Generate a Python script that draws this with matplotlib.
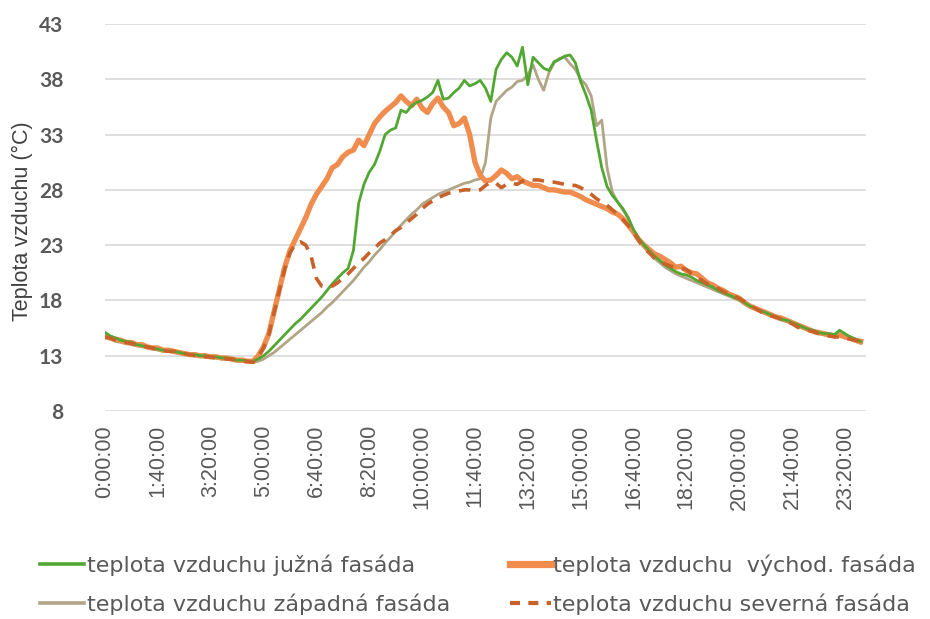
import matplotlib
matplotlib.use("Agg")
import matplotlib.pyplot as plt
from matplotlib.lines import Line2D

# time of day in minutes, 10-minute logging interval
minutes = list(range(0, 1440, 10))

tick_minutes = [0, 100, 200, 300, 400, 500, 600, 700, 800, 900, 1000, 1100, 1200, 1300, 1400]
tick_labels = ["0:00:00", "1:40:00", "3:20:00", "5:00:00", "6:40:00", "8:20:00", "10:00:00",
               "11:40:00", "13:20:00", "15:00:00", "16:40:00", "18:20:00", "20:00:00",
               "21:40:00", "23:20:00"]

y_ticks = [8, 13, 18, 23, 28, 33, 38, 43]

south = [  # južná fasáda
    15.1, 14.8, 14.6, 14.4, 14.3, 14.2, 14.0, 13.9, 13.8, 13.7, 13.6, 13.5, 13.4, 13.4, 13.3,
    13.2, 13.1, 13.1, 13.0, 13.0, 12.9, 12.9, 12.8, 12.8, 12.7, 12.6, 12.6, 12.5, 12.5,
    12.7, 13.0, 13.4, 13.9, 14.4, 14.9, 15.4, 15.9, 16.3, 16.8,
    17.3, 17.8, 18.3, 18.9, 19.5, 20.0, 20.5, 20.9, 22.5, 26.8,
    28.5, 29.6, 30.3, 31.5, 33.0, 33.4, 33.6, 35.2, 35.0, 35.6,
    35.9, 36.1, 36.4, 36.8, 37.9, 36.2, 36.3, 36.8, 37.2, 37.9,
    37.4, 37.6,
    37.9, 37.2, 36.0, 38.9, 39.8, 40.4, 40.0, 39.2, 40.9, 37.5,
    40.0, 39.5, 39.0, 38.8, 39.6, 39.8, 40.1, 40.2, 39.5, 37.8,
    36.6, 35.2, 32.5, 30.0, 28.3, 27.5, 26.9, 26.3, 25.5, 24.4,
    23.6, 23.0, 22.5, 22.0, 21.6, 21.2, 20.9, 20.6, 20.4, 20.3,
    20.1, 19.8, 19.6, 19.4, 19.2, 18.9, 18.7, 18.5, 18.3, 18.1,
    17.8, 17.5, 17.3, 17.1, 16.9, 16.7, 16.5, 16.3, 16.2, 16.0,
    15.8, 15.6, 15.4, 15.3, 15.1, 15.0, 15.0, 14.9, 15.3, 15.0,
    14.7, 14.5, 14.3,
]

east = [  # východ. fasáda
    14.8, 14.6, 14.5, 14.4, 14.2, 14.2, 14.0, 14.0, 13.8, 13.7, 13.7, 13.5, 13.5, 13.4, 13.3,
    13.2, 13.1, 13.1, 13.0, 13.0, 12.9, 12.9, 12.8, 12.8, 12.7, 12.6, 12.6, 12.5, 12.5,
    13.0, 13.8, 15.0, 17.0, 19.0, 21.0, 22.5, 23.5, 24.5, 25.5,
    26.7, 27.6, 28.3, 29.0, 30.0, 30.3, 31.0, 31.4, 31.6, 32.5,
    32.0, 33.0, 34.0, 34.6, 35.1, 35.5, 35.9, 36.5, 36.0, 35.6,
    36.2, 35.4, 35.0, 35.8, 36.3, 35.5, 35.0, 33.8, 34.0, 34.5,
    33.0, 30.5,
    29.3, 28.8, 28.9, 29.3, 29.8, 29.5, 29.0, 29.2, 28.8, 28.6,
    28.4, 28.4, 28.2, 28.0, 28.0, 27.9, 27.8, 27.8, 27.6, 27.4,
    27.1, 26.9, 26.7, 26.5, 26.3, 26.0, 25.8, 25.4, 24.8, 24.2,
    23.5, 23.0, 22.6, 22.2, 22.0, 21.7, 21.4, 21.0, 21.1, 20.7,
    20.5, 20.4, 20.0, 19.6, 19.4, 19.1, 18.9, 18.6, 18.4, 18.2,
    17.8, 17.5, 17.3, 17.1, 16.9, 16.7, 16.5, 16.4, 16.2, 16.0,
    15.8, 15.6, 15.4, 15.2, 15.1, 15.0, 14.9, 14.8, 14.9, 14.7,
    14.6, 14.4, 14.3,
]

west = [  # západná fasáda
    14.6, 14.5, 14.3, 14.2, 14.1, 14.0, 13.9, 13.8, 13.7, 13.6, 13.5, 13.4, 13.4, 13.3, 13.2,
    13.1, 13.1, 13.0, 12.9, 12.9, 12.8, 12.8, 12.7, 12.7, 12.6, 12.5, 12.5, 12.4, 12.4,
    12.5, 12.7, 13.0, 13.3, 13.7, 14.1, 14.5, 14.9, 15.3, 15.7,
    16.1, 16.5, 16.9, 17.4, 17.8, 18.3, 18.8, 19.3, 19.8, 20.4,
    21.0, 21.5, 22.1, 22.6, 23.2, 23.7, 24.3, 24.8, 25.3, 25.8,
    26.2, 26.7, 27.0, 27.3, 27.6, 27.8, 28.0, 28.2, 28.4, 28.6,
    28.7, 28.9,
    29.0, 30.5, 34.5, 36.0, 36.5, 37.0, 37.3, 37.8, 37.9, 38.4,
    39.3, 38.0, 37.0, 38.6, 39.5, 39.9, 40.0, 39.4, 38.9, 38.0,
    37.5, 36.5, 33.8, 34.3, 30.0, 27.8, 26.9, 26.2, 25.4, 24.3,
    23.4, 22.8, 22.3, 21.8, 21.4, 21.0, 20.7, 20.4, 20.2, 20.0,
    19.8, 19.6, 19.4, 19.2, 19.0, 18.8, 18.6, 18.4, 18.2, 18.0,
    17.7, 17.4, 17.2, 17.0, 16.8, 16.6, 16.4, 16.2, 16.1, 15.9,
    15.7, 15.5, 15.3, 15.2, 15.0, 14.9, 14.8, 14.7, 14.8, 14.6,
    14.5, 14.3, 14.1,
]

north = [  # severná fasáda
    14.7, 14.6, 14.4, 14.3, 14.2, 14.1, 14.0, 13.9, 13.8, 13.7, 13.6, 13.5, 13.4, 13.4, 13.3,
    13.2, 13.1, 13.0, 13.0, 12.9, 12.9, 12.8, 12.8, 12.7, 12.7, 12.6, 12.5, 12.5, 12.4,
    12.9, 13.7, 14.9, 16.9, 18.9, 20.8, 22.3, 23.1, 23.3, 23.0,
    22.0, 20.0, 19.3, 19.2, 19.3, 19.6, 20.0, 20.4, 20.9, 21.4,
    21.8, 22.3, 22.7, 23.2, 23.5, 23.9, 24.3, 24.6, 25.0, 25.4,
    25.8, 26.3, 26.7, 27.0, 27.3, 27.5, 27.7, 27.8, 27.9, 28.0,
    28.0, 27.9,
    28.0, 28.4, 28.7, 28.6, 28.2, 28.5, 28.6, 28.5, 28.8, 29.0,
    28.9, 28.9, 28.8, 28.7, 28.7, 28.6, 28.5, 28.4, 28.4, 28.2,
    27.9, 27.6, 27.2, 26.9, 26.6, 26.2, 25.8, 25.3, 24.8, 24.2,
    23.4, 22.7, 22.3, 21.8, 21.5, 21.3, 21.1, 21.0, 20.9, 20.8,
    20.4, 20.1, 19.8, 19.5, 19.3, 19.1, 18.8, 18.6, 18.4, 18.2,
    17.9, 17.6, 17.3, 17.0, 16.8, 16.6, 16.5, 16.3, 16.1, 15.9,
    15.6, 15.4, 15.3, 15.2, 15.0, 14.9, 14.8, 14.7, 14.7, 14.6,
    14.5, 14.4, 14.3,
]

labels = [
    "teplota vzduchu južná fasáda",
    "teplota vzduchu  východ. fasáda",
    "teplota vzduchu západná fasáda",
    "teplota vzduchu severná fasáda",
]

c_south = "#52A733"
c_east = "#F08C4D"
c_west = "#B1A586"
c_north = "#C8622A"
grid_c = "#D9D9D9"
text_c = "#595959"

fig = plt.figure(figsize=(9.3, 6.19), dpi=100)
ax = fig.add_axes([0.1129, 0.336, 0.8183, 0.6252])

ax.plot(minutes, west, color=c_west, lw=2.0, zorder=2, solid_joinstyle="round")
ax.plot(minutes, east, color=c_east, lw=3.8, zorder=3, solid_joinstyle="round")
ax.plot(minutes, south, color=c_south, lw=2.0, zorder=4, solid_joinstyle="round")
ax.plot(minutes, north, color=c_north, lw=2.6, zorder=5, dashes=(3.2, 2.4),
        dash_capstyle="butt")

ax.set_xlim(0, 1440)
ax.set_ylim(8, 43)
ax.set_yticks(y_ticks)
ax.set_xticks(tick_minutes)
ax.set_xticklabels(tick_labels, rotation=90, fontsize=15.5, color=text_c,
                   family="Liberation Sans")
for t in ax.get_yticklabels():
    t.set_fontsize(15)
    t.set_color(text_c)
    t.set_family("Lato")
    t.set_fontweight("bold")

ax.tick_params(axis="both", length=0)
ax.tick_params(axis="x", pad=10)
ax.tick_params(axis="y", pad=30)
ax.grid(axis="y", color=grid_c, lw=1.2)
ax.set_axisbelow(True)
for s in ax.spines.values():
    s.set_visible(False)

fig.text(0.024, 0.643, "Teplota vzduchu (°C)", rotation=90, ha="center", va="center",
         fontsize=15.5, color="#404040", family="Liberation Sans")

h_south = Line2D([], [], color=c_south, lw=2.6)
h_east = Line2D([], [], color=c_east, lw=5.2)
h_west = Line2D([], [], color=c_west, lw=2.6)
h_north = Line2D([], [], color=c_north, lw=3.0, dashes=(2.4, 2.0))

leg_kw = dict(loc="upper left", bbox_transform=fig.transFigure, frameon=False,
              prop={"family": "DejaVu Sans", "size": 16}, labelcolor=text_c,
              handletextpad=0.12, labelspacing=0.78, borderpad=0, borderaxespad=0)
leg1 = fig.legend([h_south, h_west], [labels[0], labels[2]],
                  bbox_to_anchor=(0.043, 0.104), handlelength=2.0, **leg_kw)
leg2 = fig.legend([h_east, h_north], [labels[1], labels[3]],
                  bbox_to_anchor=(0.548, 0.104), handlelength=1.85, **leg_kw)

fig.savefig("out.png", dpi=100)
